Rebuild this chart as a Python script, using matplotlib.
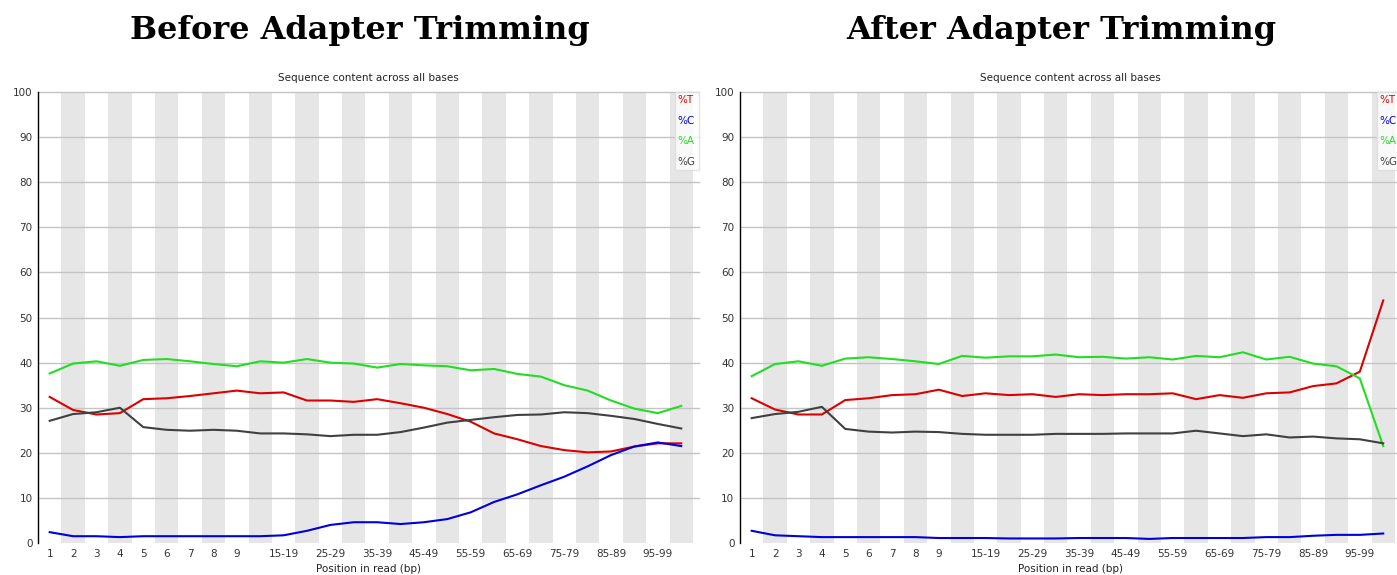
import numpy as np
import matplotlib
matplotlib.use("Agg")
import matplotlib.pyplot as plt

# position bins along the read
positions = ["1", "2", "3", "4", "5", "6", "7", "8", "9",
             "10-14", "15-19", "20-24", "25-29", "30-34", "35-39", "40-44",
             "45-49", "50-54", "55-59", "60-64", "65-69", "70-74", "75-79",
             "80-84", "85-89", "90-94", "95-99", "100-101"]
# only every other bin is labelled after position 9
shown_labels = ["1", "2", "3", "4", "5", "6", "7", "8", "9",
                "", "15-19", "", "25-29", "", "35-39", "", "45-49", "",
                "55-59", "", "65-69", "", "75-79", "", "85-89", "", "95-99", ""]

# before trimming (% of bases)
before_T = [32.4, 29.5, 28.5, 28.8, 31.9, 32.1, 32.6, 33.2, 33.8, 33.2, 33.4, 31.6, 31.6, 31.3,
            31.9, 31.0, 30.0, 28.6, 26.9, 24.3, 23.0, 21.5, 20.6, 20.1, 20.3, 21.4, 22.1, 22.1]
before_C = [2.4, 1.5, 1.5, 1.3, 1.5, 1.5, 1.5, 1.5, 1.5, 1.5, 1.7, 2.7, 4.0, 4.6,
            4.6, 4.2, 4.6, 5.3, 6.8, 9.1, 10.8, 12.8, 14.7, 17.0, 19.5, 21.4, 22.3, 21.5]
before_A = [37.6, 39.8, 40.3, 39.3, 40.6, 40.8, 40.3, 39.7, 39.2, 40.3, 40.0, 40.8, 40.0, 39.8,
            38.9, 39.7, 39.4, 39.2, 38.3, 38.6, 37.5, 36.9, 35.0, 33.8, 31.6, 29.8, 28.8, 30.4]
before_G = [27.1, 28.6, 29.0, 30.0, 25.7, 25.1, 24.9, 25.1, 24.9, 24.3, 24.3, 24.1, 23.7, 24.0,
            24.0, 24.6, 25.6, 26.7, 27.3, 27.9, 28.4, 28.5, 29.0, 28.8, 28.2, 27.5, 26.4, 25.4]

# after trimming
after_T = [32.1, 29.6, 28.5, 28.5, 31.7, 32.1, 32.8, 33.0, 34.0, 32.6, 33.2, 32.8, 33.0, 32.4,
           33.0, 32.8, 33.0, 33.0, 33.2, 31.9, 32.8, 32.2, 33.2, 33.4, 34.8, 35.4, 38.0, 53.8]
after_C = [2.7, 1.7, 1.5, 1.3, 1.3, 1.3, 1.3, 1.3, 1.1, 1.1, 1.1, 1.0, 1.0, 1.0,
           1.1, 1.1, 1.1, 0.9, 1.1, 1.1, 1.1, 1.1, 1.3, 1.3, 1.6, 1.8, 1.8, 2.1]
after_A = [37.0, 39.7, 40.3, 39.3, 40.9, 41.2, 40.8, 40.3, 39.7, 41.5, 41.1, 41.4, 41.4, 41.8,
           41.2, 41.3, 40.9, 41.2, 40.7, 41.5, 41.2, 42.3, 40.7, 41.3, 39.8, 39.2, 36.5, 21.5]
after_G = [27.7, 28.6, 29.1, 30.2, 25.3, 24.7, 24.5, 24.7, 24.6, 24.2, 24.0, 24.0, 24.0, 24.2,
           24.2, 24.2, 24.3, 24.3, 24.3, 24.9, 24.3, 23.7, 24.1, 23.4, 23.6, 23.2, 23.0, 22.1]

bases = ["%T", "%C", "%A", "%G"]
colors = ["#dc0000", "#0000dc", "#22dd22", "#404040"]


def draw_panel(ax, series):
    x = np.arange(len(positions))
    ax.set_xlim(-0.5, 27.75)
    ax.set_ylim(0, 100)
    # alternating grey bands behind every other bin
    for i in x:
        if i % 2 == 1:
            ax.axvspan(i - 0.5, i + 0.5, color="#e6e6e6", lw=0, zorder=0)
    for v in range(10, 101, 10):
        ax.axhline(v, color="#c4c4c4", lw=1.0, zorder=1, clip_on=False)
    for vals, c in zip(series, colors):
        ax.plot(x, vals, color=c, lw=1.5, zorder=3)

    ax.set_xticks(x)
    ax.set_xticklabels(shown_labels, fontsize=7.5, color="#333333")
    ax.set_yticks(range(0, 101, 10))
    ax.set_yticklabels([str(v) for v in range(0, 101, 10)], fontsize=7.5, color="#333333")
    ax.tick_params(axis="x", length=0, pad=4)
    ax.tick_params(axis="y", length=0, pad=4)
    for s in ["top", "right", "bottom"]:
        ax.spines[s].set_visible(False)
    ax.spines["left"].set_color("black")
    ax.spines["left"].set_linewidth(1.0)
    ax.set_title("Sequence content across all bases", fontsize=7.5, pad=8, color="#222222")
    ax.set_xlabel("Position in read (bp)", fontsize=7.5, labelpad=4, color="#222222")

    # legend box in the top right corner
    leg = ax.legend([plt.Line2D([], [], lw=0)] * 4, bases, loc="upper right",
                    bbox_to_anchor=(1.0, 1.0), fontsize=7.5, handlelength=0, handletextpad=0,
                    borderpad=0.3, labelspacing=1.0, frameon=True, fancybox=False,
                    borderaxespad=0)
    leg.get_frame().set_edgecolor("#dddddd")
    leg.get_frame().set_linewidth(1.0)
    for txt, c in zip(leg.get_texts(), colors):
        txt.set_color(c)


fig = plt.figure(figsize=(13.97, 5.75), dpi=100)
ax1 = fig.add_axes([0.0272, 0.0557, 0.473, 0.784])
ax2 = fig.add_axes([0.5297, 0.0557, 0.473, 0.784])

draw_panel(ax1, [before_T, before_C, before_A, before_G])
draw_panel(ax2, [after_T, after_C, after_A, after_G])

fig.text(360 / 1397, 1 - 30 / 575, "Before Adapter Trimming", ha="center", va="center",
         fontsize=23, fontweight="bold", family="DejaVu Serif")
fig.text(1061 / 1397, 1 - 30 / 575, "After Adapter Trimming", ha="center", va="center",
         fontsize=23, fontweight="bold", family="DejaVu Serif")

fig.savefig("out.png", dpi=100)
